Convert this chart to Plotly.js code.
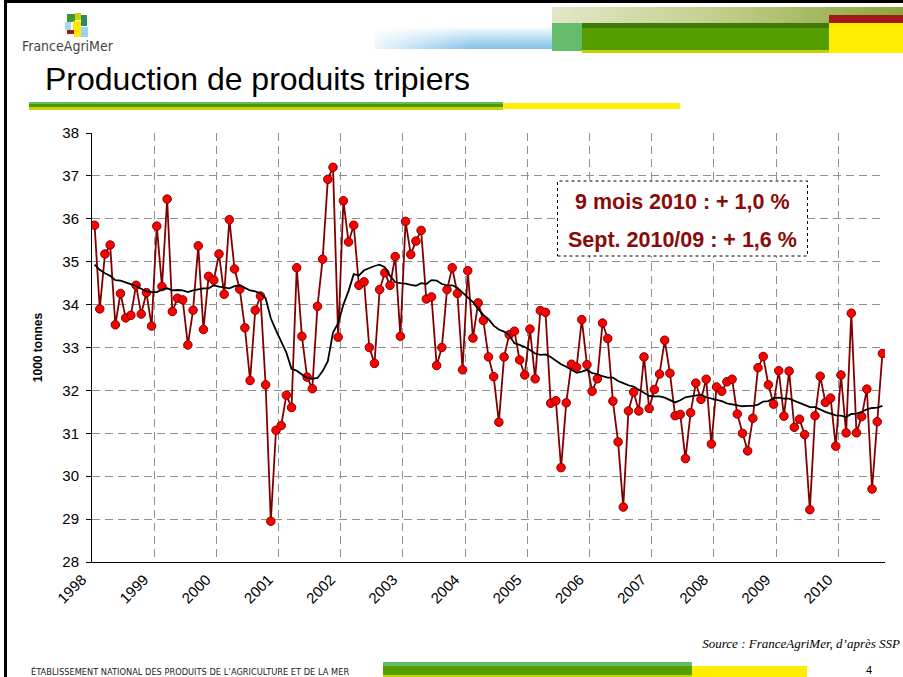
<!DOCTYPE html>
<html>
<head>
<meta charset="utf-8">
<script src="https://cdn.plot.ly/plotly-3.0.1.min.js"></script>
<style>
  html, body { margin:0; padding:0; background:#fff; }
  #page { position:relative; width:903px; height:677px; overflow:hidden; background:#fff;
          font-family:'Liberation Sans', Arial, sans-serif; }
  #chart { position:absolute; left:0; top:0; width:903px; height:677px; }
  .d { position:absolute; pointer-events:none; }
  .t { position:absolute; white-space:nowrap; pointer-events:none; }
</style>
</head>
<body>
<div id="page">
  <div id="chart"></div>

  <!-- frame -->
  <div class="d" style="left:4px;top:0;width:899px;height:3px;background:#000"></div>
  <div class="d" style="left:4px;top:0;width:3px;height:677px;background:#000"></div>

  <!-- logo -->
  <div class="d" style="left:67px;top:14px;width:8px;height:8px;background:#3a9a3a"></div>
  <div class="d" style="left:75px;top:13px;width:6px;height:7px;background:#c8d400"></div>
  <div class="d" style="left:81px;top:15px;width:6px;height:11px;background:#2e8b57"></div>
  <div class="d" style="left:65px;top:22px;width:6px;height:8px;background:#a8d8f0"></div>
  <div class="d" style="left:73px;top:21px;width:8px;height:11px;background:#ffe600"></div>
  <div class="d" style="left:67px;top:30px;width:7px;height:4px;background:#a01818"></div>
  <div class="d" style="left:81px;top:27px;width:7px;height:10px;background:#9cd3ee"></div>
  <div class="d" style="left:74px;top:32px;width:7px;height:5px;background:#ffee00"></div>
  <div class="t" style="left:22px;top:39px;font-family:'Liberation Sans Narrow','DejaVu Sans Condensed','Liberation Sans',sans-serif;font-size:14px;line-height:14px;color:#444">FranceAgriMer</div>

  <!-- top-right bars -->
  <div class="d" style="left:552px;top:7px;width:351px;height:16px;background:linear-gradient(to right,#e3e7c8,#c4d08e 45%,#8ba63a)"></div>
  <div class="d" style="left:374px;top:28px;width:178px;height:21px;background:linear-gradient(to right,rgba(255,255,255,0.85),rgba(255,255,255,0) 55%),linear-gradient(to bottom,#f3f9fd 0%,#b2daf2 55%,#82c1ea 100%)"></div>
  <div class="d" style="left:552px;top:23px;width:30px;height:28px;background:#66bb6a"></div>
  <div class="d" style="left:582px;top:23px;width:247px;height:5px;background:#3d7a06"></div>
  <div class="d" style="left:582px;top:28px;width:247px;height:22px;background:#559e00"></div>
  <div class="d" style="left:582px;top:50px;width:247px;height:3px;background:#c8d000"></div>
  <div class="d" style="left:829px;top:15px;width:74px;height:8px;background:#a3161a"></div>
  <div class="d" style="left:829px;top:23px;width:74px;height:30px;background:#ffee00"></div>

  <!-- title -->
  <div class="t" style="left:45px;top:63px;font-size:32px;line-height:32px;color:#000">Production de produits tripiers</div>
  <div class="d" style="left:29px;top:102px;width:474px;height:2px;background:#66bb66"></div>
  <div class="d" style="left:29px;top:104px;width:474px;height:3px;background:#4e9a06"></div>
  <div class="d" style="left:29px;top:107px;width:474px;height:3px;background:#c8d400"></div>
  <div class="d" style="left:503px;top:103px;width:177px;height:6px;background:#ffee00"></div>

  <!-- footer -->
  <div class="t" style="right:3px;top:637px;font-family:'Liberation Serif','Times New Roman',serif;font-style:italic;font-size:13px;line-height:13px;color:#000">Source : FranceAgriMer, d’après SSP</div>
  <div class="t" style="left:31px;top:667px;font-family:'Liberation Sans Narrow','DejaVu Sans Condensed','Liberation Sans',sans-serif;font-size:9.2px;line-height:9px;color:#222">ÉTABLISSEMENT NATIONAL DES PRODUITS DE L’AGRICULTURE ET DE LA MER</div>
  <div class="d" style="left:383px;top:662px;width:309px;height:4px;background:#66bb6a"></div>
  <div class="d" style="left:383px;top:666px;width:309px;height:9px;background:#559e00"></div>
  <div class="d" style="left:383px;top:675px;width:309px;height:2px;background:#c8d400"></div>
  <div class="d" style="left:692px;top:666px;width:115px;height:11px;background:#ffee00"></div>
  <div class="t" style="left:866px;top:664px;font-size:11px;line-height:12px;color:#000">4</div>
</div>

<script>
// Monthly production, Jan 1998 – Sep 2010 (1000 tonnes)
const years = ['1998','1999','2000','2001','2002','2003','2004','2005','2006','2007','2008','2009','2010'];
const production = [
  35.85,33.90,35.18,35.39,33.53,34.26,33.69,33.75,34.45,33.78,34.28,33.50,
  35.83,34.42,36.46,33.84,34.15,34.11,33.06,33.87,35.37,33.42,34.66,34.57,
  35.18,34.24,35.98,34.83,34.36,33.46,32.23,33.87,34.20,32.13,28.95,31.07,
  31.18,31.89,31.60,34.86,33.26,32.31,32.04,33.96,35.06,36.92,37.20,33.24,
  36.42,35.46,35.85,34.45,34.53,33.00,32.63,34.35,34.74,34.45,35.12,33.26,
  35.94,35.17,35.48,35.73,34.13,34.18,32.58,33.00,34.35,34.86,34.26,32.48,
  34.79,33.22,34.04,33.63,32.78,32.32,31.26,32.78,33.30,33.38,32.71,32.36,
  33.43,32.27,33.86,33.82,31.70,31.76,30.20,31.71,32.61,32.54,33.65,32.60,
  31.98,32.27,33.57,33.21,31.75,30.80,29.28,31.52,31.96,31.52,32.78,31.58,
  32.02,32.38,33.17,32.40,31.41,31.44,30.41,31.48,32.17,31.79,32.26,30.75,
  32.08,31.98,32.20,32.26,31.45,31.00,30.59,31.35,32.53,32.79,32.13,31.68,
  32.46,31.40,32.45,31.14,31.33,30.97,29.22,31.41,32.33,31.72,31.82,30.70,
  32.36,31.01,33.80,31.01,31.39,32.03,29.70,31.27,32.86
];
const movingAverage = [
  34.93,34.81,34.73,34.67,34.57,34.56,34.52,34.48,34.43,34.37,34.31,34.29,
  34.29,34.35,34.38,34.33,34.34,34.33,34.29,34.33,34.36,34.38,34.38,34.45,
  34.42,34.40,34.38,34.43,34.45,34.39,34.33,34.31,34.26,34.15,33.68,33.40,
  33.12,32.88,32.50,32.46,32.37,32.29,32.27,32.29,32.45,32.68,33.35,33.57,
  34.00,34.32,34.71,34.68,34.80,34.85,34.90,34.93,34.87,34.67,34.52,34.50,
  34.49,34.46,34.44,34.50,34.48,34.57,34.56,34.48,34.45,34.45,34.39,34.28,
  34.17,34.06,33.90,33.76,33.66,33.51,33.42,33.37,33.29,33.10,33.06,33.01,
  32.94,32.86,32.83,32.84,32.78,32.69,32.61,32.55,32.48,32.41,32.44,32.48,
  32.40,32.38,32.33,32.30,32.30,32.22,32.17,32.12,32.09,32.02,31.93,31.87,
  31.86,31.86,31.83,31.77,31.72,31.77,31.84,31.86,31.88,31.90,31.84,31.81,
  31.78,31.75,31.70,31.68,31.66,31.63,31.64,31.64,31.67,31.74,31.75,31.82,
  31.83,31.81,31.81,31.76,31.72,31.67,31.61,31.61,31.55,31.50,31.46,31.42,
  31.41,31.38,31.45,31.46,31.50,31.56,31.59,31.60,31.64
];
const boxLines = ['9 mois 2010 : + 1,0 %', 'Sept. 2010/09 : + 1,6 %'];
const yAxisTitle = '1000 tonnes';

const monthIndex = production.map((_, i) => i);
const yearTickPos = years.map((_, k) => k * 12 - 0.5);

const W = 903, H = 677, ML = 92, MR = 18, MT = 133, MB = 115;
const PW = W - ML - MR, PH = H - MT - MB;
const px2x = px => (px - ML) / PW;
const py2y = py => (H - MB - py) / PH;

const FONT = "'Liberation Sans', Arial, sans-serif";
const GRID = '#8f8f8f';

const traces = [
  {
    x: monthIndex, y: production, type: 'scatter', mode: 'lines+markers',
    line: { color: '#800000', width: 1.8 },
    marker: { color: '#ff0000', size: 8.5, line: { color: '#800000', width: 1 } },
    hoverinfo: 'skip', showlegend: false
  },
  {
    x: monthIndex, y: movingAverage, type: 'scatter', mode: 'lines',
    line: { color: '#000000', width: 1.8 },
    hoverinfo: 'skip', showlegend: false
  }
];

const layout = {
  width: W, height: H,
  margin: { l: ML, r: MR, t: MT, b: MB, pad: 0 },
  paper_bgcolor: 'rgba(0,0,0,0)', plot_bgcolor: 'rgba(0,0,0,0)',
  font: { family: FONT, size: 15, color: '#000' },
  showlegend: false,
  xaxis: {
    range: [-0.5, production.length - 0.5],
    tickmode: 'array', tickvals: yearTickPos, ticktext: years,
    tickangle: -45, tickfont: { family: FONT, size: 15, color: '#000' },
    ticklabelshift: -10, ticklabelstandoff: 2,
    ticks: '', showline: true, linecolor: '#000', linewidth: 1,
    showgrid: true, gridcolor: GRID, gridwidth: 1, griddash: '8px,5px',
    zeroline: false, fixedrange: true
  },
  yaxis: {
    range: [28, 38], dtick: 1, tick0: 28,
    tickfont: { family: FONT, size: 15, color: '#000' },
    ticks: 'outside', ticklen: 5, tickcolor: '#000', tickwidth: 1,
    ticklabelstandoff: 4,
    showline: true, linecolor: '#000', linewidth: 1,
    showgrid: true, gridcolor: GRID, gridwidth: 1, griddash: '8px,5px',
    zeroline: false, fixedrange: true,
    title: { text: yAxisTitle, font: { family: FONT, size: 12, color: '#000', weight: 'bold' }, standoff: 17 }
  },
  shapes: [
    {
      type: 'rect', xref: 'paper', yref: 'paper', layer: 'above',
      x0: px2x(557.5), x1: px2x(807.5), y0: py2y(256), y1: py2y(181),
      fillcolor: '#ffffff', line: { color: '#000', width: 1, dash: 'dot' }
    }
  ],
  annotations: [
    {
      xref: 'paper', yref: 'paper', x: px2x(682.5), y: py2y(201.5),
      xanchor: 'center', yanchor: 'middle', showarrow: false,
      text: '<b>' + boxLines[0] + '</b>',
      font: { family: FONT, size: 21.5, color: '#8b0a0a' }
    },
    {
      xref: 'paper', yref: 'paper', x: px2x(682.5), y: py2y(240),
      xanchor: 'center', yanchor: 'middle', showarrow: false,
      text: '<b>' + boxLines[1] + '</b>',
      font: { family: FONT, size: 21.5, color: '#8b0a0a' }
    }
  ]
};

Plotly.newPlot('chart', traces, layout, { staticPlot: true, displayModeBar: false });
</script>
</body>
</html>
